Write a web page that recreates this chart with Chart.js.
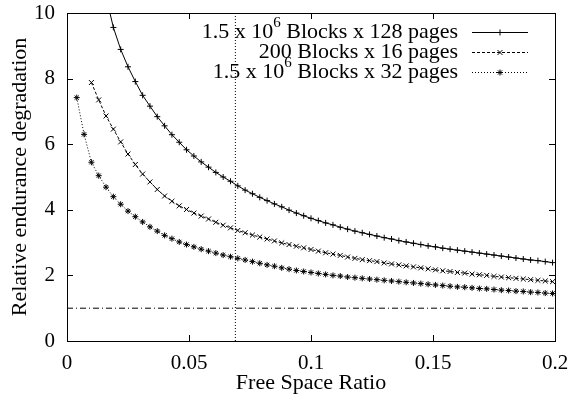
<!DOCTYPE html>
<html>
<head>
<meta charset="utf-8">
<script src="https://cdn.jsdelivr.net/npm/chart.js@4/dist/chart.umd.min.js"></script>
<style>
  html, body { margin: 0; padding: 0; background: #fff; }
  #wrap { width: 573px; height: 407px; }
</style>
</head>
<body>
<div id="wrap"><canvas id="grafico"></canvas></div>
<script>
// free space ratio of each sample
const freeSpaceRatio = [
  0.001, 0.004, 0.007, 0.010, 0.013, 0.016, 0.019, 0.022, 0.025, 0.028,
  0.031, 0.034, 0.037, 0.040, 0.043, 0.046, 0.049, 0.052, 0.055, 0.058,
  0.061, 0.064, 0.067, 0.070, 0.073, 0.076, 0.079, 0.082, 0.085, 0.088,
  0.091, 0.094, 0.097, 0.100, 0.103, 0.106, 0.109, 0.112, 0.115, 0.118,
  0.121, 0.124, 0.127, 0.130, 0.133, 0.136, 0.139, 0.142, 0.145, 0.148,
  0.151, 0.154, 0.157, 0.160, 0.163, 0.166, 0.169, 0.172, 0.175, 0.178,
  0.181, 0.184, 0.187, 0.190, 0.193, 0.196, 0.199
];

// 1.5 x 10^6 blocks x 128 pages
const blocos128 = [
  null, null, null, null, null, 10.50, 9.56, 8.89, 8.36, 7.91,
  7.49, 7.16, 6.84, 6.56, 6.29, 6.06, 5.83, 5.64, 5.46, 5.30,
  5.14, 5.00, 4.87, 4.73, 4.60, 4.49, 4.38, 4.28, 4.18, 4.09,
  3.99, 3.90, 3.82, 3.74, 3.67, 3.60, 3.54, 3.47, 3.41, 3.35,
  3.30, 3.25, 3.20, 3.15, 3.11, 3.06, 3.02, 2.98, 2.94, 2.90,
  2.87, 2.83, 2.80, 2.77, 2.74, 2.71, 2.68, 2.65, 2.62, 2.59,
  2.56, 2.53, 2.50, 2.47, 2.45, 2.42, 2.39
];

// 200 blocks x 16 pages
const blocos16 = [
  null, null, null, 7.88, 7.35, 6.86, 6.46, 6.07, 5.70, 5.38,
  5.09, 4.85, 4.62, 4.42, 4.26, 4.12, 4.01, 3.90, 3.81, 3.72,
  3.62, 3.53, 3.45, 3.37, 3.30, 3.23, 3.17, 3.11, 3.05, 2.99,
  2.94, 2.89, 2.84, 2.79, 2.74, 2.69, 2.65, 2.61, 2.56, 2.52,
  2.48, 2.45, 2.42, 2.38, 2.35, 2.32, 2.29, 2.26, 2.23, 2.20,
  2.17, 2.14, 2.12, 2.09, 2.07, 2.04, 2.02, 2.00, 1.97, 1.95,
  1.93, 1.91, 1.89, 1.87, 1.85, 1.83, 1.81
];

// 1.5 x 10^6 blocks x 32 pages
const blocos32 = [
  null, 7.42, 6.30, 5.45, 5.04, 4.69, 4.40, 4.17, 3.96, 3.79,
  3.63, 3.48, 3.35, 3.22, 3.12, 3.02, 2.94, 2.87, 2.80, 2.74,
  2.68, 2.62, 2.57, 2.52, 2.47, 2.42, 2.37, 2.32, 2.28, 2.23,
  2.19, 2.15, 2.12, 2.09, 2.06, 2.03, 2.00, 1.98, 1.95, 1.93,
  1.91, 1.89, 1.87, 1.85, 1.83, 1.81, 1.79, 1.77, 1.75, 1.73,
  1.71, 1.69, 1.67, 1.65, 1.64, 1.62, 1.60, 1.59, 1.57, 1.55,
  1.54, 1.52, 1.51, 1.49, 1.48, 1.46, 1.45
];

// reference lines
const linhaVerticalX = [0.069, 0.069];
const linhaVerticalY = [0, 10];
const linhaBaseX = [0, 0.2];
const linhaBaseY = [1, 1];

const legendas = [
  "1.5 x 10^6 Blocks x 128 pages",
  "200 Blocks x 16 pages",
  "1.5 x 10^6 Blocks x 32 pages"
];

const ticksX = [0, 0.05, 0.1, 0.15, 0.2];
const ticksY = [0, 2, 4, 6, 8, 10];

const FONTE = "'Liberation Serif', 'Times New Roman', serif";

function pontos(xs, ys) {
  return xs.map((x, i) => ({ x: x, y: ys[i] }));
}

// gnuplot style frame with inward ticks + legend inside the plot
const molduraPlugin = {
  id: "moldura",
  afterDraw(chart) {
    const ctx = chart.ctx;
    const a = chart.chartArea;
    const sx = chart.scales.x;
    const sy = chart.scales.y;
    const tl = 6;
    ctx.save();
    ctx.strokeStyle = "#000";
    ctx.lineWidth = 1;
    ctx.setLineDash([]);
    ctx.beginPath();
    for (const v of ticksX) {
      const px = Math.round(sx.getPixelForValue(v)) + 0.5;
      ctx.moveTo(px, a.bottom);
      ctx.lineTo(px, a.bottom - tl);
      ctx.moveTo(px, a.top);
      ctx.lineTo(px, a.top + tl);
    }
    for (const v of ticksY) {
      const py = Math.round(sy.getPixelForValue(v)) + 0.5;
      ctx.moveTo(a.left, py);
      ctx.lineTo(a.left + tl, py);
      ctx.moveTo(a.right, py);
      ctx.lineTo(a.right - tl, py);
    }
    ctx.stroke();
    ctx.strokeRect(Math.round(a.left) + 0.5, Math.round(a.top) + 0.5,
      Math.round(a.right - a.left), Math.round(a.bottom - a.top));

    // legend
    const textoDir = 458;
    const amostraIni = 472;
    const amostraFim = 528;
    legendas.forEach((txt, i) => {
      const ds = chart.data.datasets[i];
      const y = 32 + i * 20;
      const partes = txt.split(/\^(\d+)/);
      const fNormal = "22px " + FONTE;
      const fSup = "15px " + FONTE;
      let largura = 0;
      partes.forEach((p, j) => {
        ctx.font = j % 2 ? fSup : fNormal;
        largura += ctx.measureText(p).width;
      });
      let x = textoDir - largura;
      ctx.fillStyle = "#000";
      ctx.textAlign = "left";
      ctx.textBaseline = "middle";
      partes.forEach((p, j) => {
        ctx.font = j % 2 ? fSup : fNormal;
        ctx.fillText(p, x, j % 2 ? y - 9 : y);
        x += ctx.measureText(p).width;
      });
      ctx.beginPath();
      ctx.setLineDash(ds.borderDash || []);
      ctx.moveTo(amostraIni, y + 0.5);
      ctx.lineTo(amostraFim, y + 0.5);
      ctx.stroke();
      ctx.setLineDash([]);
      Chart.helpers.drawPoint(ctx, {
        pointStyle: ds.pointStyle, radius: ds.pointRadius, borderWidth: 1
      }, (amostraIni + amostraFim) / 2, y + 0.5);
    });
    ctx.restore();
  }
};

new Chart(document.getElementById("grafico"), {
  type: "scatter",
  data: {
    datasets: [
      {
        label: legendas[0],
        data: pontos(freeSpaceRatio, blocos128),
        showLine: true,
        borderColor: "#000",
        backgroundColor: "#000",
        borderWidth: 1,
        pointStyle: "cross",
        pointRadius: 3,
        pointBorderWidth: 1
      },
      {
        label: legendas[1],
        data: pontos(freeSpaceRatio, blocos16),
        showLine: true,
        borderColor: "#000",
        backgroundColor: "#000",
        borderWidth: 1,
        borderDash: [3, 2],
        pointStyle: "crossRot",
        pointRadius: 3.5,
        pointBorderWidth: 1
      },
      {
        label: legendas[2],
        data: pontos(freeSpaceRatio, blocos32),
        showLine: true,
        borderColor: "#000",
        backgroundColor: "#000",
        borderWidth: 1,
        borderDash: [1, 2],
        pointStyle: "star",
        pointRadius: 3,
        pointBorderWidth: 1
      },
      {
        label: "",
        data: pontos(linhaVerticalX, linhaVerticalY),
        showLine: true,
        borderColor: "#000",
        borderWidth: 1,
        borderDash: [1, 2],
        pointRadius: 0
      },
      {
        label: "",
        data: pontos(linhaBaseX, linhaBaseY),
        showLine: true,
        borderColor: "#000",
        borderWidth: 1,
        borderDash: [6, 3, 1, 3],
        pointRadius: 0
      }
    ]
  },
  options: {
    responsive: true,
    maintainAspectRatio: false,
    animation: false,
    layout: { padding: { top: 13, right: 18, left: 0, bottom: 0 } },
    plugins: {
      legend: { display: false },
      tooltip: { enabled: false }
    },
    scales: {
      x: {
        type: "linear",
        min: 0,
        max: 0.2,
        afterFit(scale) {
          scale.height = 66;
          scale.paddingLeft = 0;
          scale.paddingRight = 0;
        },
        afterBuildTicks(scale) { scale.ticks = ticksX.map(v => ({ value: v })); },
        grid: { display: false, drawTicks: false },
        border: { display: false },
        ticks: {
          color: "#000",
          padding: 10,
          maxRotation: 0,
          font: { family: FONTE, size: 21 },
          callback: v => String(+v.toFixed(2))
        },
        title: {
          display: true,
          text: "Free Space Ratio",
          color: "#000",
          font: { family: FONTE, size: 22 },
          padding: { top: 0, bottom: 11 }
        }
      },
      y: {
        min: 0,
        max: 10,
        afterFit(scale) {
          scale.width = 67;
          scale.paddingTop = 0;
          scale.paddingBottom = 0;
        },
        afterBuildTicks(scale) { scale.ticks = ticksY.map(v => ({ value: v })); },
        grid: { display: false, drawTicks: false },
        border: { display: false },
        ticks: {
          color: "#000",
          padding: 12,
          font: { family: FONTE, size: 21 }
        },
        title: {
          display: true,
          text: "Relative endurance degradation",
          color: "#000",
          font: { family: FONTE, size: 22 },
          padding: { top: 7, bottom: 0 }
        }
      }
    }
  },
  plugins: [molduraPlugin]
});
</script>
</body>
</html>
